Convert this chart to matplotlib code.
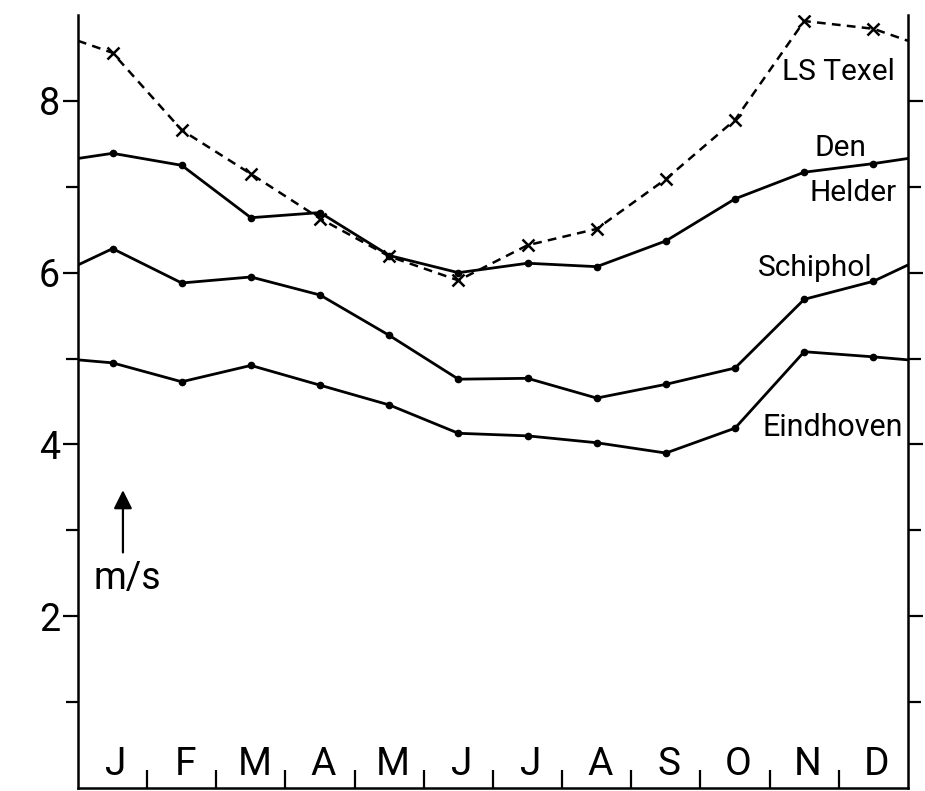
import numpy as np
import matplotlib
matplotlib.use("Agg")
import matplotlib.pyplot as plt
from matplotlib.ticker import FixedLocator
import matplotlib.transforms as mtransforms

plt.rcParams['font.family'] = ['Roboto', 'DejaVu Sans']

months = ["J", "F", "M", "A", "M", "J", "J", "A", "S", "O", "N", "D"]

# monthly mean wind speed, m/s
texel = [8.56, 7.66, 7.15, 6.63, 6.19, 5.91, 6.32, 6.51, 7.09, 7.78, 8.93, 8.84]
den_helder = [7.39, 7.25, 6.64, 6.70, 6.20, 6.00, 6.11, 6.07, 6.37, 6.86, 7.17, 7.27]
schiphol = [6.28, 5.88, 5.95, 5.74, 5.27, 4.76, 4.77, 4.54, 4.70, 4.89, 5.69, 5.90]
eindhoven = [4.95, 4.73, 4.92, 4.69, 4.46, 4.13, 4.10, 4.02, 3.90, 4.19, 5.08, 5.02]

y_ticks = [2, 4, 6, 8]
y_tick_labels = ["2", "4", "6", "8"]
y_minor = [1, 3, 5, 7]


def wrap(vals):
    # continue the curve Dec -> Jan across both edges of the year
    edge = (vals[0] + vals[-1]) / 2
    x = np.concatenate([[0], np.arange(12) + 0.5, [12]])
    return x, np.concatenate([[edge], vals, [edge]])


fig = plt.figure(figsize=(9.25, 7.91), dpi=100)
ax = fig.add_axes([0.0843, 0.0038, 0.8973, 0.9772])

lw = 2.0
x, y = wrap(texel)
ax.plot(x, y, color='black', lw=1.8, ls=(0, (3.5, 2.5)))
ax.plot(x[1:-1], y[1:-1], ls='none', marker='x', ms=9, mew=1.8, color='black')
for vals in [den_helder, schiphol, eindhoven]:
    x, y = wrap(vals)
    ax.plot(x, y, color='black', lw=lw)
    ax.plot(x[1:-1], y[1:-1], ls='none', marker='o', ms=4.5, color='black')

ax.set_xlim(0, 12)
ax.set_ylim(0, 9.0)

ax.spines['top'].set_visible(False)
for s in ['left', 'right', 'bottom']:
    ax.spines[s].set_linewidth(1.8)

ax.set_yticks(y_ticks)
ax.set_yticklabels(y_tick_labels, fontsize=27)
ax.yaxis.set_minor_locator(FixedLocator(y_minor))
ax.tick_params(axis='y', which='both', direction='out', left=True, right=True,
               length=11, width=1.6, pad=2)
ax.tick_params(axis='y', which='minor', length=9)

ax.set_xticks(np.arange(1, 12))
ax.set_xticklabels([])
ax.tick_params(axis='x', which='major', direction='in', length=13, width=1.6)

trans = mtransforms.blended_transform_factory(ax.transData, ax.transAxes)
for i, m in enumerate(months):
    ax.text(i + 0.55, 0.031, m, transform=trans, ha='center', va='center',
            fontsize=28)

ax.text(10.18, 8.34, "LS Texel", fontsize=21.5, ha='left', va='center')
ax.text(10.65, 7.45, "Den", fontsize=21.5, ha='left', va='center')
ax.text(10.58, 6.93, "Helder", fontsize=21.5, ha='left', va='center')
ax.text(9.83, 6.05, "Schiphol", fontsize=21.5, ha='left', va='center')
ax.text(9.89, 4.20, "Eindhoven", fontsize=22, ha='left', va='center')

ax.annotate("", xy=(0.65, 3.50), xytext=(0.65, 2.71),
            arrowprops=dict(arrowstyle='-|>', color='black', lw=1.6,
                            mutation_scale=28))
ax.text(0.72, 2.44, "m/s", fontsize=27, ha='center', va='center')

fig.savefig("out.png", dpi=100)
